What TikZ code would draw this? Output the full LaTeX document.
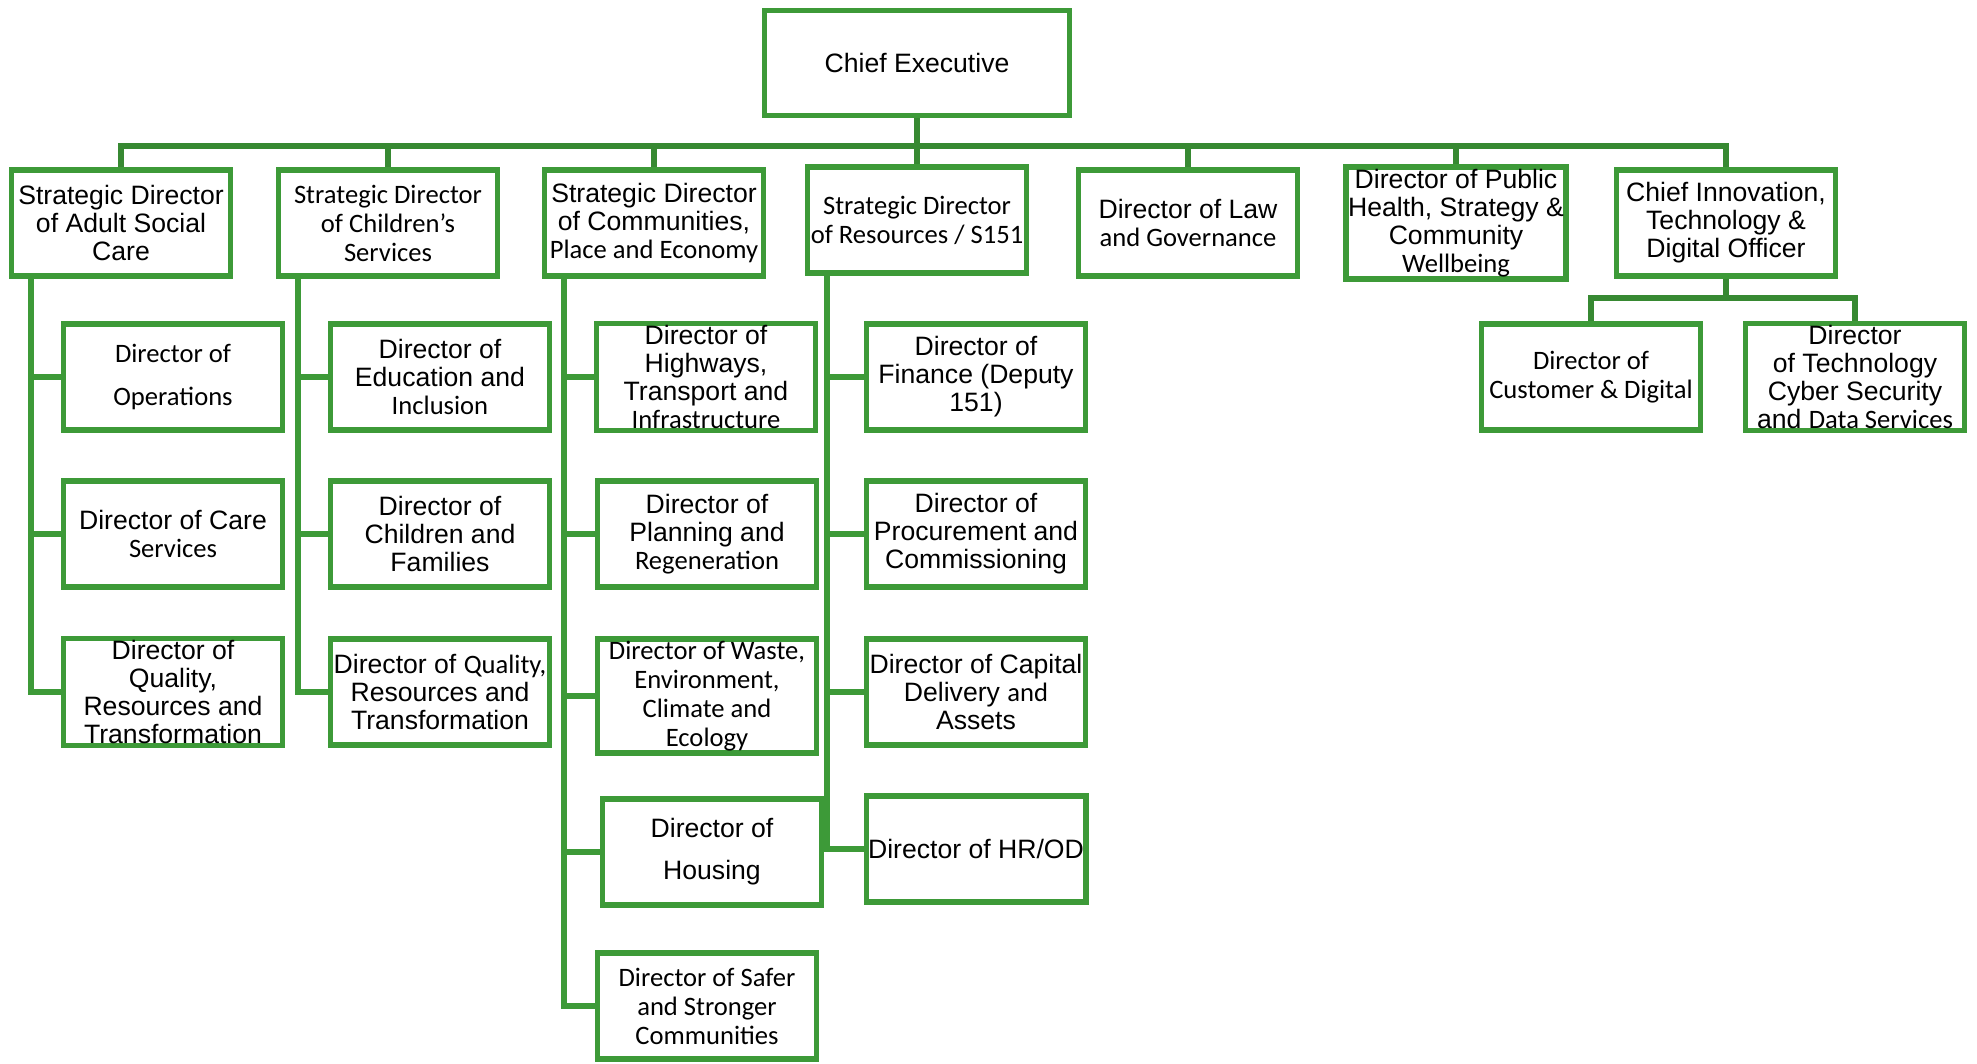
\documentclass[tikz,border=0pt]{standalone}
\usepackage{fontspec}
\setmainfont{Liberation Sans}
\newfontfamily\calibri{Carlito}
\usetikzlibrary{positioning}
\definecolor{boxgreen}{RGB}{61,154,56}
\definecolor{linegreen}{RGB}{55,137,50}
\tikzset{
    mynode/.style = {rectangle, line width=2.6pt, draw=boxgreen, align=center, inner sep=1pt, minimum width=109.5pt, minimum height=53pt, font=\fontsize{13.3}{14}\selectfont, text=black},
    mynodec/.style = {mynode, font=\calibri\fontsize{13.3}{14.5}\selectfont},
    mynodetop/.style = {mynode, minimum width=152.5pt, minimum height=52.5pt},
    edgeg/.style = {-, line width=2.6pt, linegreen},
    edgeb/.style = {-, line width=2.6pt, boxgreen}
}
\begin{document}
\begin{tikzpicture}[x=0.5pt, y=-0.5pt]
  \useasboundingbox (0,0) rectangle (1977,1064);
  % top
  \node[mynodetop] (ceo) at (917,63) {Chief Executive};
  % first row
  \node[mynode] (sd1) at (121,223) {Strategic Director\\of Adult Social\\Care};
  \node[mynodec] (sd2) at (388,223) {Strategic Director\\of Children’s\\Services};
  \node[mynode] (sd3) at (654,223) {Strategic Director\\of Communities,\\{\calibri Place and Economy}};
  \node[mynodec] (sd4) at (917,220) {Strategic Director\\of Resources / S151};
  \node[mynode] (law) at (1188,223) {Director of Law\\{\calibri and Governance}};
  \node[mynode] (ph) at (1456,223) {Director of Public\\Health, Strategy \&\\Community\\{\calibri Wellbeing}};
  \node[mynode] (cio) at (1726,223) {Chief Innovation,\\Technology \&\\Digital Officer};
  % adult social care
  \node[mynodec] (d11) at (173,377) {Director of\\[7pt]Operations};
  \node[mynode] (d12) at (173,534) {Director of Care\\{\calibri Services}};
  \node[mynode] (d13) at (173,692) {Director of\\Quality,\\Resources and\\Transformation};
  % children's services
  \node[mynode] (d21) at (440,377) {Director of\\Education and\\{\calibri Inclusion}};
  \node[mynode] (d22) at (440,534) {Director of\\Children and\\Families};
  \node[mynode] (d23) at (440,692) {Director of {\calibri Quality,}\\Resources and\\Transformation};
  % communities, place and economy
  \node[mynode] (d31) at (706,377) {Director of\\Highways,\\Transport and\\{\calibri Infrastructure}};
  \node[mynode] (d32) at (707,534) {Director of\\Planning and\\{\calibri Regeneration}};
  \node[mynodec] (d33) at (707,696) {Director of Waste,\\Environment,\\Climate and\\Ecology};
  \node[mynode] (d34) at (712,852) {Director of\\[7pt]Housing};
  \node[mynodec] (d35) at (707,1006) {Director of Safer\\and Stronger\\Communities};
  % resources
  \node[mynode] (d41) at (976,377) {Director of\\Finance (Deputy\\151)};
  \node[mynode] (d42) at (976,534) {Director of\\Procurement and\\Commissioning};
  \node[mynode] (d43) at (976,692) {Director of Capital\\Delivery {\calibri and}\\Assets};
  \node[mynode] (d44) at (976,849) {Director of HR/OD};
  % innovation and digital
  \node[mynodec] (cd) at (1591,377) {Director of\\Customer \& Digital};
  \node[mynode] (tech) at (1855,377) {Director\\of Technology\\Cyber Security\\and {\calibri Data Services}};

  \coordinate (bus) at (917,146);
  \coordinate (cbus) at (1726,298);
  \draw[edgeg] (ceo) -- (bus);
  \foreach \n in {sd1,sd2,sd3,sd4,law,ph,cio}
    \draw[edgeg] (bus) -| (\n.north);
  \draw[edgeg] (cio) -- (cbus);
  \foreach \n in {cd,tech}
    \draw[edgeg] (cbus) -| (\n.north);
  \foreach \n in {d11,d12,d13}
    \draw[edgeb] ([xshift=11pt]sd1.south west) |- (\n.west);
  \foreach \n in {d21,d22,d23}
    \draw[edgeb] ([xshift=11pt]sd2.south west) |- (\n.west);
  \foreach \n in {d31,d32,d33,d34,d35}
    \draw[edgeb] ([xshift=11pt]sd3.south west) |- (\n.west);
  \foreach \n in {d41,d42,d43,d44}
    \draw[edgeb] ([xshift=11pt]sd4.south west) |- (\n.west);
\end{tikzpicture}
\end{document}
